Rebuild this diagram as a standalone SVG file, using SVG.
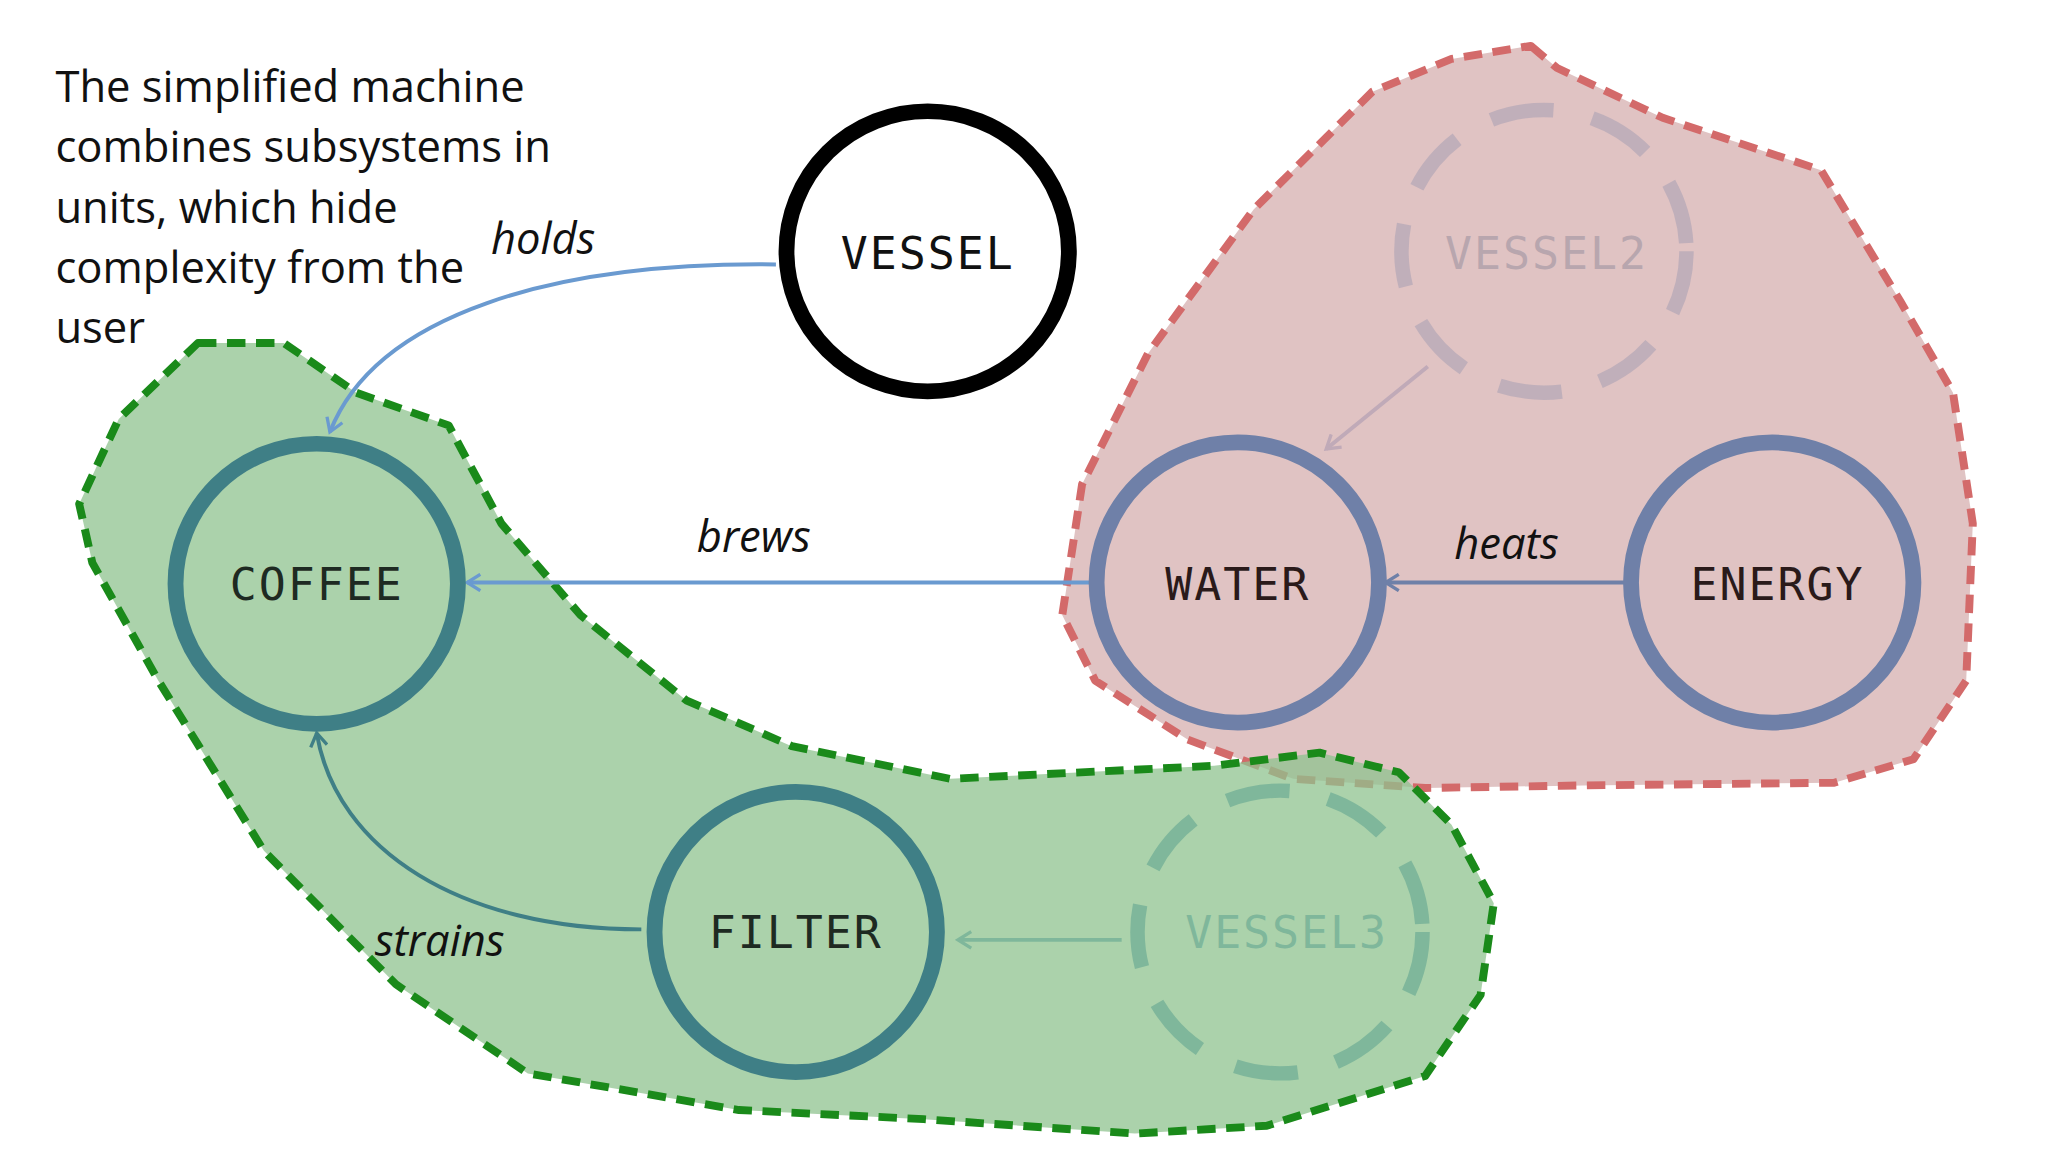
<svg xmlns="http://www.w3.org/2000/svg" width="2048" height="1152" viewBox="0 0 2048 1152">
<style>
.cap{font-family:"Open Sans","Liberation Sans",sans-serif;font-size:33px;fill:#111}
.lbl{font-family:"Open Sans","Liberation Sans",sans-serif;font-size:33px;font-style:italic;fill:#111}
.nt{font-family:"DejaVu Sans Mono","Liberation Mono",monospace;font-size:34px;letter-spacing:1.5px;text-anchor:middle;dominant-baseline:central}
.node{stroke-width:12}
.edge{fill:none;stroke-width:3}
</style>
<defs>
<marker id="ab" viewBox="0 0 12 12" refX="10" refY="6" markerWidth="5" markerHeight="5" orient="auto" markerUnits="strokeWidth"><polyline points="2,1 10,6 2,11" fill="none" stroke="#6a9ad0" stroke-width="2"/></marker>
<marker id="at" viewBox="0 0 12 12" refX="10" refY="6" markerWidth="5" markerHeight="5" orient="auto" markerUnits="strokeWidth"><polyline points="2,1 10,6 2,11" fill="none" stroke="#3f7f86" stroke-width="2"/></marker>
<marker id="ap" viewBox="0 0 12 12" refX="10" refY="6" markerWidth="5" markerHeight="5" orient="auto" markerUnits="strokeWidth"><polyline points="2,1 10,6 2,11" fill="none" stroke="#6f80a8" stroke-width="2"/></marker>
<marker id="ag" viewBox="0 0 12 12" refX="10" refY="6" markerWidth="5" markerHeight="5" orient="auto" markerUnits="strokeWidth"><polyline points="2,1 10,6 2,11" fill="none" stroke="#c0aab8" stroke-width="2"/></marker>
<marker id="av" viewBox="0 0 12 12" refX="10" refY="6" markerWidth="5" markerHeight="5" orient="auto" markerUnits="strokeWidth"><polyline points="2,1 10,6 2,11" fill="none" stroke="#7fb79b" stroke-width="2"/></marker>
</defs>
<rect width="2048" height="1152" fill="#fff"/>
<g transform="scale(1.3196,1.309)">
<g id="unit-heater">
<path d="M1160,35 L1180,52 L1260,90 L1380,130 L1440,230 L1480,300 L1495,400 L1490,520 L1450,580 L1390,598 L1200,600 L1080,602 L980,595 L900,565 L830,520 L805,470 L820,370 L870,270 L950,160 L1040,70 L1100,45 Z" fill="#e0c3c3" stroke="#d36a6a" stroke-width="6" stroke-linejoin="round" stroke-dasharray="14,8"/>
</g>
<g id="unit-brewer">
<path d="M150,262 L215,262 L270,300 L340,325 L380,400 L440,470 L520,535 L600,570 L720,595 L920,585 L1000,575 L1060,590 L1100,630 L1132,690 L1122,760 L1080,822 L960,860 L860,866 L700,855 L560,848 L400,820 L300,752 L200,650 L120,520 L70,430 L60,385 L90,320 Z" fill="#8fc38f" fill-opacity="0.75" stroke="#1a8a1a" stroke-width="6" stroke-linejoin="round" stroke-dasharray="14,8"/>
</g>
<g id="caption">
<text class="cap" x="42" y="78">The simplified machine</text>
<text class="cap" x="42" y="124">combines subsystems in</text>
<text class="cap" x="42" y="170">units, which hide</text>
<text class="cap" x="42" y="216">complexity from the</text>
<text class="cap" x="42" y="262">user</text>
</g>
<g id="connectors">
<path class="edge" d="M588,202 C420,200 285,240 250,330" stroke="#6a9ad0" marker-end="url(#ab)"/>
<path class="edge" d="M828,445 L354,445" stroke="#6a9ad0" marker-end="url(#ab)"/>
<path class="edge" d="M1232,445 L1050,445" stroke="#6f80a8" marker-end="url(#ap)"/>
<path class="edge" d="M1082,280 L1005,343" stroke="#c0aab8" marker-end="url(#ag)"/>
<path class="edge" d="M486,710 C350,710 255,650 240,560" stroke="#3f7f86" marker-end="url(#at)"/>
<path class="edge" d="M850,718 L726,718" stroke="#7fb79b" marker-end="url(#av)"/>
<text class="lbl" x="372" y="194">holds</text>
<text class="lbl" x="528" y="422">brews</text>
<text class="lbl" x="1102" y="427">heats</text>
<text class="lbl" x="284" y="730">strains</text>
</g>
<g id="vessel"><circle class="node" cx="703" cy="192" r="107" fill="#fff" stroke="#000"/><text class="nt" x="703" y="194" style="fill:#111">VESSEL</text></g>
<g id="vessel2"><circle cx="1170" cy="192" r="108" fill="none" stroke="#b8aab8" stroke-width="11" stroke-dasharray="48,30" opacity="0.8"/><text class="nt" x="1172" y="194" style="fill:#b8a6ae">VESSEL2</text></g>
<g id="coffee"><circle class="node" cx="240" cy="446" r="107" fill="none" stroke="#3f7f86"/><text class="nt" x="240" y="447" style="fill:#1e2a22">COFFEE</text></g>
<g id="water"><circle class="node" cx="938" cy="445" r="107" fill="none" stroke="#6f80a8"/><text class="nt" x="938" y="447" style="fill:#2a1a1a">WATER</text></g>
<g id="energy"><circle class="node" cx="1343" cy="445" r="107" fill="none" stroke="#6f80a8"/><text class="nt" x="1347" y="447" style="fill:#2a1a1a">ENERGY</text></g>
<g id="filter"><circle class="node" cx="603" cy="712" r="107" fill="none" stroke="#3f7f86"/><text class="nt" x="603" y="713" style="fill:#1e2a22">FILTER</text></g>
<g id="vessel3"><circle cx="970" cy="712" r="108" fill="none" stroke="#7fb79b" stroke-width="11" stroke-dasharray="48,30"/><text class="nt" x="975" y="713" style="fill:#7fb79b">VESSEL3</text></g>
</g>
</svg>
